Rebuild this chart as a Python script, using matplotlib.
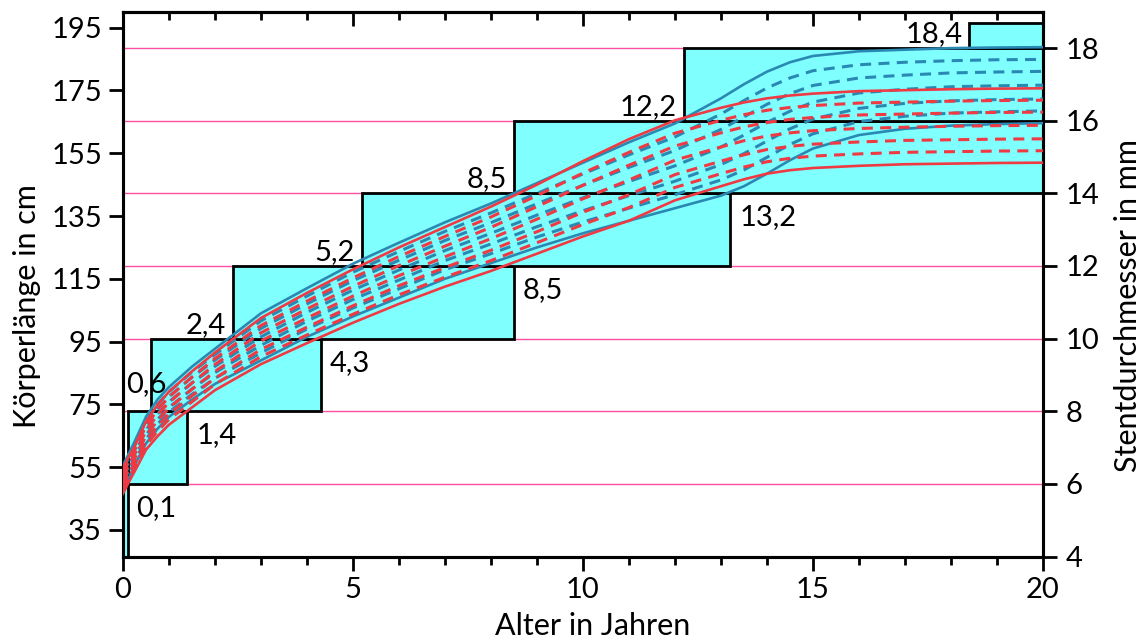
import numpy as np
import matplotlib
matplotlib.use("Agg")
import matplotlib.pyplot as plt
from matplotlib.patches import Rectangle

plt.rcParams['font.family'] = ['Lato', 'DejaVu Sans']

# Alter in Jahren
alter = [0, 0.1, 0.25, 0.5, 0.75, 1, 1.5, 2, 3, 4, 5, 6, 7, 8, 9, 10, 11, 12,
         13, 13.5, 14, 14.5, 15, 16, 17, 18, 19, 20]

# Jungen: Perzentilen P3, P10, P25, P50, P75, P90, P97 (cm)
jungen = [
    [47.5, 50.5, 55.5, 62.5, 67.2, 71.0, 76.5, 81.5, 89.0, 96.5, 103.0, 109.0, 115.0, 120.0, 125.0, 129.5, 133.5, 137.5, 141.5, 144.5, 148.5, 152.8, 156.5, 160.8, 162.8, 163.8, 164.3, 164.6],
    [48.8, 51.8, 56.7, 63.9, 68.7, 72.5, 78.2, 83.3, 91.4, 99.0, 105.7, 111.8, 117.9, 123.0, 128.3, 133.1, 137.5, 141.8, 146.5, 149.7, 153.7, 157.8, 161.2, 165.1, 166.8, 167.8, 168.2, 168.5],
    [50.1, 53.1, 57.9, 65.2, 70.2, 74.0, 79.9, 85.1, 93.8, 101.5, 108.4, 114.6, 120.8, 126.1, 131.6, 136.7, 141.5, 146.1, 151.4, 154.9, 158.9, 162.8, 165.9, 169.3, 170.9, 171.7, 172.1, 172.3],
    [51.5, 54.5, 59.3, 66.8, 71.9, 75.8, 81.8, 87.1, 96.5, 104.3, 111.4, 117.8, 124.0, 129.5, 135.3, 140.8, 146.0, 151.0, 157.0, 160.8, 164.8, 168.4, 171.3, 174.2, 175.4, 176.2, 176.5, 176.7],
    [52.9, 55.9, 60.6, 68.3, 73.5, 77.5, 83.6, 89.1, 99.2, 107.0, 114.4, 120.9, 127.2, 132.9, 138.9, 144.8, 150.5, 155.9, 162.6, 166.6, 170.6, 174.0, 176.6, 179.0, 179.9, 180.6, 180.9, 181.1],
    [54.2, 57.2, 61.8, 69.6, 75.0, 79.0, 85.3, 90.9, 101.6, 109.5, 117.1, 123.7, 130.1, 136.0, 142.2, 148.4, 154.5, 160.2, 167.5, 171.8, 175.8, 179.0, 181.3, 183.2, 184.0, 184.5, 184.8, 184.9],
    [55.5, 58.5, 63.0, 71.0, 76.5, 80.5, 87.0, 92.7, 104.0, 112.0, 119.8, 126.5, 133.0, 139.0, 145.5, 152.0, 158.5, 164.5, 172.5, 177.0, 181.0, 184.0, 186.0, 187.5, 188.0, 188.5, 188.7, 188.8],
]

# Mädchen: Perzentilen P3, P10, P25, P50, P75, P90, P97 (cm)
maedchen = [
    [46.5, 49.5, 53.5, 60.5, 64.8, 68.5, 74.0, 79.5, 87.8, 94.5, 101.0, 107.0, 112.5, 117.5, 123.0, 128.5, 133.5, 140.0, 144.5, 146.7, 148.5, 149.6, 150.3, 151.0, 151.5, 151.7, 151.9, 152.0],
    [47.8, 50.8, 54.8, 61.9, 66.4, 70.2, 75.8, 81.4, 90.2, 97.1, 103.7, 109.9, 115.5, 120.8, 126.5, 132.3, 137.7, 144.1, 148.5, 150.6, 152.3, 153.4, 154.1, 154.8, 155.3, 155.5, 155.7, 155.8],
    [49.1, 52.1, 56.1, 63.4, 68.0, 71.9, 77.7, 83.3, 92.5, 99.6, 106.4, 112.8, 118.6, 124.1, 130.0, 136.2, 141.8, 148.2, 152.5, 154.5, 156.2, 157.2, 157.9, 158.6, 159.1, 159.3, 159.5, 159.6],
    [50.5, 53.5, 57.5, 65.0, 69.8, 73.8, 79.8, 85.5, 95.2, 102.5, 109.5, 116.0, 122.0, 127.8, 134.0, 140.5, 146.5, 152.8, 157.0, 159.0, 160.5, 161.5, 162.2, 162.9, 163.3, 163.6, 163.8, 163.9],
    [51.9, 54.9, 58.9, 66.6, 71.6, 75.6, 81.8, 87.7, 97.8, 105.4, 112.6, 119.2, 125.4, 131.4, 138.0, 144.8, 151.2, 157.3, 161.5, 163.4, 164.8, 165.8, 166.4, 167.2, 167.5, 167.8, 168.0, 168.1],
    [53.2, 56.2, 60.2, 68.1, 73.2, 77.3, 83.7, 89.6, 100.1, 107.9, 115.3, 122.1, 128.5, 134.7, 141.5, 148.7, 155.3, 161.4, 165.5, 167.3, 168.7, 169.6, 170.2, 171.0, 171.3, 171.6, 171.8, 171.9],
    [54.5, 57.5, 61.5, 69.5, 74.8, 79.0, 85.5, 91.5, 102.5, 110.5, 118.0, 125.0, 131.5, 138.0, 145.0, 152.5, 159.5, 165.5, 169.5, 171.2, 172.5, 173.4, 174.0, 174.8, 175.1, 175.4, 175.6, 175.7],
]

# Stentgrößen: Altersbereich (Jahre) und Durchmesserbereich (mm)
stent_von = [0, 0.1, 0.6, 2.4, 5.2, 8.5, 12.2, 18.4]
stent_bis = [0.1, 1.4, 4.3, 8.5, 13.2, 20, 20, 20]
d_unten = [4, 6, 8, 10, 12, 14, 16, 18]
d_oben = [6, 8, 10, 12, 14, 16, 18, 18.7]

stufen_mm = [6, 8, 10, 12, 14, 16, 18]

blau = '#2a89b3'
rot = '#ef3a43'
tuerkis = '#80ffff'
pink = '#ff4fa3'

fig = plt.figure(figsize=(11.47, 6.41), dpi=100)
ax = fig.add_axes([0.1072, 0.1318, 0.8021, 0.8499])
ax2 = ax.twinx()

# Stent-Kästen und Hilfslinien auf der mm-Achse (hinter den Kurven)
ax.set_zorder(ax2.get_zorder() + 1)
ax.patch.set_visible(False)

for y in stufen_mm:
    ax2.axhline(y, color=pink, lw=1.0, zorder=1)

for x0, x1, y0, y1 in zip(stent_von, stent_bis, d_unten, d_oben):
    ax2.add_patch(Rectangle((x0, y0), x1 - x0, y1 - y0, facecolor=tuerkis,
                            edgecolor='black', lw=2.0, zorder=2))


def komma(v):
    return f"{v:.1f}".replace('.', ',')


# Endalter rechts neben dem Kasten
for x1, y1 in zip(stent_bis, d_oben):
    if x1 >= 20:
        continue
    ax2.annotate(komma(x1), (x1, y1), xytext=(9, -24), textcoords='offset pixels',
                 ha='left', va='center', fontsize=21, zorder=5)

# Startalter links neben dem Kasten
for i, (x0, y0) in enumerate(zip(stent_von, d_unten)):
    if i < 2:
        continue
    dx, dy = (-7, 14)
    if i == 2:
        dx, dy = (16, 27)
    ax2.annotate(komma(x0), (x0, y0), xytext=(dx, dy), textcoords='offset pixels',
                 ha='right', va='center', fontsize=21, zorder=5)

# Perzentilkurven: außen durchgezogen, innen gestrichelt
strich = (0, (3.6, 2.4))
stile = ['-', strich, strich, strich, strich, strich, '-']
for werte, st in zip(jungen, stile):
    ax.plot(alter, werte, color=blau, ls=st, lw=1.9 if st == '-' else 2.2, zorder=3)
for werte, st in zip(maedchen, stile):
    ax.plot(alter, werte, color=rot, ls=st, lw=1.9 if st == '-' else 2.2, zorder=4)

ax.set_xlim(0, 20)
ax.set_ylim(26.5, 200.1)
ax2.set_ylim(4, 19)

ax.set_xticks([0, 5, 10, 15, 20])
ax.set_xticks(np.arange(0, 21, 1), minor=True)
ax.set_yticks(np.arange(35, 196, 20))
ax2.set_yticks(np.arange(4, 19, 2))

ax.tick_params(axis='x', which='major', direction='out', length=10, width=2, labelsize=21, pad=5)
ax.tick_params(axis='x', which='minor', direction='out', length=6, width=2)
ax.tick_params(axis='y', direction='out', length=10, width=2, labelsize=21, pad=5)
ax2.tick_params(axis='y', direction='out', length=10, width=2, labelsize=21, pad=6)

oben = ax.secondary_xaxis('top')
oben.set_xticks([0, 5, 10, 15, 20])
oben.set_xticks(np.arange(0, 21, 1), minor=True)
oben.tick_params(which='major', direction='in', length=10, width=2, labeltop=False)
oben.tick_params(which='minor', direction='in', length=6, width=2)
oben.spines['top'].set_linewidth(2.2)

for a in (ax, ax2):
    for s in a.spines.values():
        s.set_linewidth(2.2)

ax.set_xlabel('Alter in Jahren', fontsize=22)
ax.set_ylabel('Körperlänge in cm', fontsize=22)
ax2.set_ylabel('Stentdurchmesser in mm', fontsize=22)
ax.xaxis.set_label_coords(0.51, -0.102)
ax.yaxis.set_label_coords(-0.089, 0.46)
ax2.yaxis.set_label_coords(1.077, 0.46)

fig.savefig('out.png', dpi=100)
